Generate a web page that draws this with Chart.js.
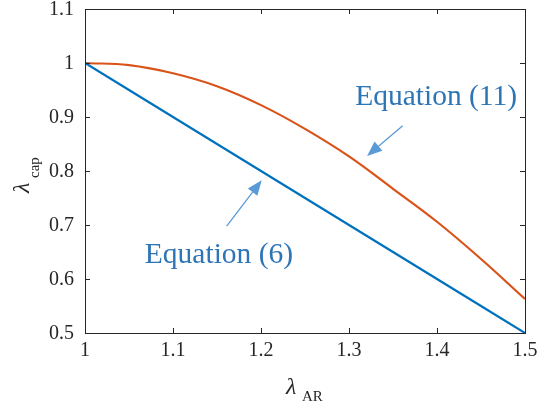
<!DOCTYPE html>
<html>
<head>
<meta charset="utf-8">
<script src="https://cdn.jsdelivr.net/npm/chart.js@4"></script>
<style>
  body { margin: 0; background: #fff; }
  #wrap { width: 538px; height: 407px; }
</style>
</head>
<body>
<div id="wrap"><canvas id="grafica" width="538" height="407"></canvas></div>
<script>
// datos
const lambdaAR = [1.00, 1.05, 1.10, 1.15, 1.20, 1.25, 1.30, 1.35, 1.40, 1.45, 1.50];
const ecuacion6 = [1.000, 0.950, 0.900, 0.850, 0.800, 0.750, 0.700, 0.650, 0.600, 0.550, 0.500];
const ecuacion11 = [1.000, 0.996, 0.981, 0.957, 0.922, 0.878, 0.827, 0.767, 0.706, 0.637, 0.563];
const ticksX = [1, 1.1, 1.2, 1.3, 1.4, 1.5];
const ticksY = [0.5, 0.6, 0.7, 0.8, 0.9, 1, 1.1];

// anotaciones en coordenadas de datos
const notas = [
    { texto: "Equation (11)", x: 1.307, y: 0.922, flecha: [1.361, 0.884, 1.3205, 0.828] },
    { texto: "Equation (6)", x: 1.068, y: 0.630, flecha: [1.161, 0.698, 1.2008, 0.783] }
];

const SERIF = "'Liberation Serif', 'Times New Roman', serif";
const COLOR_EJE = "#262626";
const COLOR_NOTA = "#2e75b6";
const COLOR_FLECHA = "#5b9bd5";

function puntos(ys) {
    return lambdaAR.map((x, i) => ({ x: x, y: ys[i] }));
}

function fmt(v) {
    return String(Number(v.toFixed(1)));
}

// plugin: caja, ticks hacia dentro, etiquetas, titulos y flechas
const extras = {
    id: "extras",
    afterDraw(chart) {
        const ctx = chart.ctx;
        const a = chart.chartArea;
        const sx = chart.scales.x, sy = chart.scales.y;
        ctx.save();

        // caja
        ctx.strokeStyle = COLOR_EJE;
        ctx.lineWidth = 1;
        ctx.strokeRect(Math.round(a.left) + 0.5, Math.round(a.top) + 0.5,
            Math.round(a.right - a.left), Math.round(a.bottom - a.top));

        // ticks hacia dentro
        const L = 5;
        ctx.beginPath();
        ticksX.forEach(v => {
            const px = Math.round(sx.getPixelForValue(v)) + 0.5;
            ctx.moveTo(px, a.bottom); ctx.lineTo(px, a.bottom - L);
            ctx.moveTo(px, a.top); ctx.lineTo(px, a.top + L);
        });
        ticksY.forEach(v => {
            const py = Math.round(sy.getPixelForValue(v)) + 0.5;
            ctx.moveTo(a.left, py); ctx.lineTo(a.left + L, py);
            ctx.moveTo(a.right, py); ctx.lineTo(a.right - L, py);
        });
        ctx.stroke();

        // etiquetas de ticks
        ctx.fillStyle = COLOR_EJE;
        ctx.font = "20px " + SERIF;
        ctx.textAlign = "center";
        ctx.textBaseline = "alphabetic";
        ticksX.forEach(v => ctx.fillText(fmt(v), sx.getPixelForValue(v), a.bottom + 23));
        ctx.textAlign = "right";
        ctx.textBaseline = "middle";
        ticksY.forEach(v => ctx.fillText(fmt(v), a.left - 11, sy.getPixelForValue(v) + 1));

        // titulo eje x: lambda_AR
        ctx.textBaseline = "alphabetic";
        ctx.textAlign = "left";
        ctx.font = "italic 24px " + SERIF;
        ctx.fillText("\u03bb", 286, 394);
        ctx.font = "15px " + SERIF;
        ctx.fillText("AR", 302, 401);

        // titulo eje y: lambda_cap (girado)
        ctx.save();
        ctx.translate(29, 193);
        ctx.rotate(-Math.PI / 2);
        ctx.font = "italic 24px " + SERIF;
        ctx.fillText("\u03bb", 0, 0);
        ctx.font = "15px " + SERIF;
        ctx.fillText("cap", 15, 10);
        ctx.restore();

        // anotaciones
        notas.forEach(n => {
            ctx.fillStyle = COLOR_NOTA;
            ctx.font = "29.5px " + SERIF;
            ctx.textAlign = "left";
            ctx.fillText(n.texto, sx.getPixelForValue(n.x), sy.getPixelForValue(n.y));

            const x0 = sx.getPixelForValue(n.flecha[0]), y0 = sy.getPixelForValue(n.flecha[1]);
            const x1 = sx.getPixelForValue(n.flecha[2]), y1 = sy.getPixelForValue(n.flecha[3]);
            const ang = Math.atan2(y1 - y0, x1 - x0);
            const largo = 15, ancho = 6;
            const bx = x1 - largo * Math.cos(ang), by = y1 - largo * Math.sin(ang);
            ctx.strokeStyle = COLOR_FLECHA;
            ctx.lineWidth = 1.3;
            ctx.beginPath();
            ctx.moveTo(x0, y0); ctx.lineTo(bx, by);
            ctx.stroke();
            ctx.fillStyle = COLOR_FLECHA;
            ctx.beginPath();
            ctx.moveTo(x1, y1);
            ctx.lineTo(bx + ancho * Math.sin(ang), by - ancho * Math.cos(ang));
            ctx.lineTo(bx - ancho * Math.sin(ang), by + ancho * Math.cos(ang));
            ctx.closePath();
            ctx.fill();
        });
        ctx.restore();
    }
};

const ctxGrafica = document.getElementById("grafica").getContext("2d");
new Chart(ctxGrafica, {
    type: "scatter",
    data: {
        datasets: [
            {
                label: "Equation (6)",
                data: puntos(ecuacion6),
                showLine: true,
                borderColor: "#0072bd",
                borderWidth: 2.2,
                pointRadius: 0
            },
            {
                label: "Equation (11)",
                data: puntos(ecuacion11),
                showLine: true,
                borderColor: "#d95319",
                borderWidth: 2.2,
                pointRadius: 0,
                tension: 0.4
            }
        ]
    },
    options: {
        responsive: false,
        animation: false,
        devicePixelRatio: 1,
        layout: { padding: { left: 0, right: 13, top: 9, bottom: 0 } },
        plugins: { legend: { display: false }, tooltip: { enabled: false } },
        scales: {
            x: {
                type: "linear", min: 1, max: 1.5,
                ticks: { display: false },
                grid: { display: false, drawTicks: false },
                border: { display: false },
                afterFit: s => { s.height = 74; }
            },
            y: {
                type: "linear", min: 0.5, max: 1.1,
                ticks: { display: false },
                grid: { display: false, drawTicks: false },
                border: { display: false },
                afterFit: s => { s.width = 85; }
            }
        }
    },
    plugins: [extras]
});
</script>
</body>
</html>
